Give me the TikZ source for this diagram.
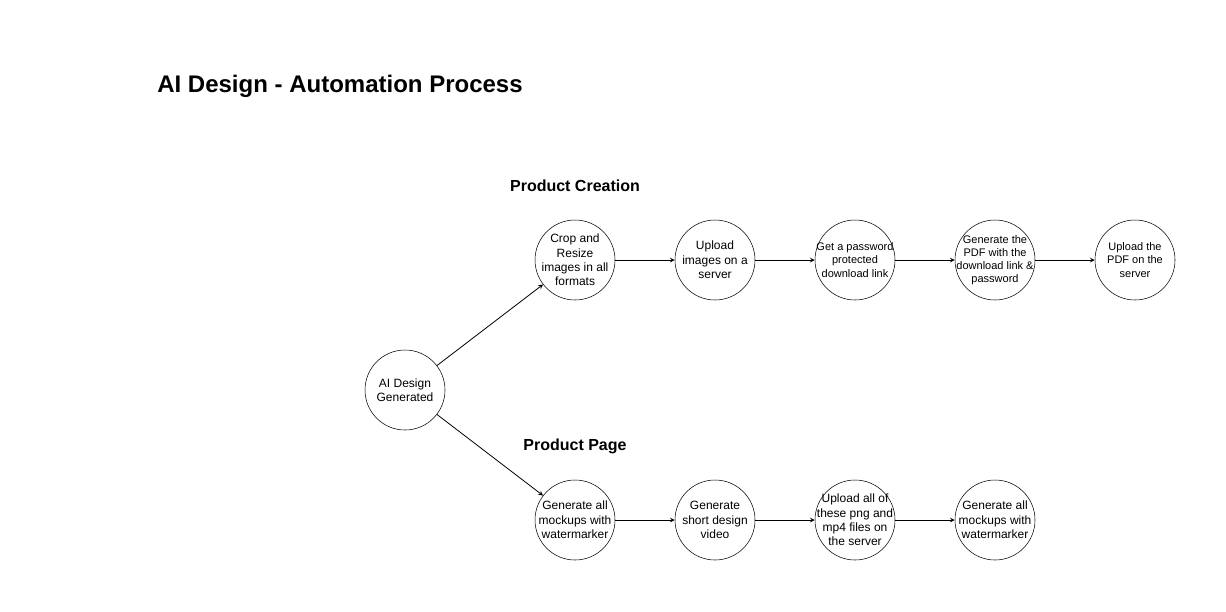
\documentclass[tikz,border=0pt]{standalone}
\usepackage{fontspec}
\setmainfont{Liberation Sans}
\usetikzlibrary{arrows.meta}

\tikzset{
  etape/.style={circle, draw, minimum size=60pt, inner sep=-12pt, align=center, font=\fontsize{9}{10.8}\selectfont},
  petite/.style={font=\fontsize{8.25}{9.9}\selectfont},
  fleche/.style={-{stealth[scale=2]}, semithick}
}

\begin{document}
\begin{tikzpicture}[x=0.75pt, y=-0.75pt]
    \useasboundingbox (0,0) rectangle (1226,611);

    % Titre
    \node[font=\bfseries\fontsize{18}{21}\selectfont] (titre) at (340, 86) {AI Design - Automation Process};

    % Départ
    \node[etape] (depart) at (405, 390) {AI Design\\Generated};

    % Branche création du produit
    \node[font=\bfseries\fontsize{12}{14}\selectfont] (creation) at (575, 186) {Product Creation};
    \node[etape] (crop) at (575, 260) {Crop and\\Resize\\images in all\\formats};
    \node[etape] (upload) at (715, 260) {Upload\\images on a\\server};
    \node[etape, petite] (lien) at (855, 260) {Get a password\\protected\\download link};
    \node[etape, petite] (pdf) at (995, 260) {Generate the\\PDF with the\\download link \&\\password};
    \node[etape, petite] (envoipdf) at (1135, 260) {Upload the\\PDF on the\\server};

    % Branche page produit
    \node[font=\bfseries\fontsize{12}{14}\selectfont] (page) at (575, 446) {Product Page};
    \node[etape] (mockups) at (575, 520) {Generate all\\mockups with\\watermarker};
    \node[etape] (video) at (715, 520) {Generate\\short design\\video};
    \node[etape] (fichiers) at (855, 520) {Upload all of\\these png and\\mp4 files on\\the server};
    \node[etape] (mockupsbis) at (995, 520) {Generate all\\mockups with\\watermarker};

    % Flèches
    \draw[fleche] (depart) -- (crop);
    \draw[fleche] (depart) -- (mockups);
    \draw[fleche] (crop) -- (upload);
    \draw[fleche] (upload) -- (lien);
    \draw[fleche] (lien) -- (pdf);
    \draw[fleche] (pdf) -- (envoipdf);
    \draw[fleche] (mockups) -- (video);
    \draw[fleche] (video) -- (fichiers);
    \draw[fleche] (fichiers) -- (mockupsbis);
\end{tikzpicture}
\end{document}
